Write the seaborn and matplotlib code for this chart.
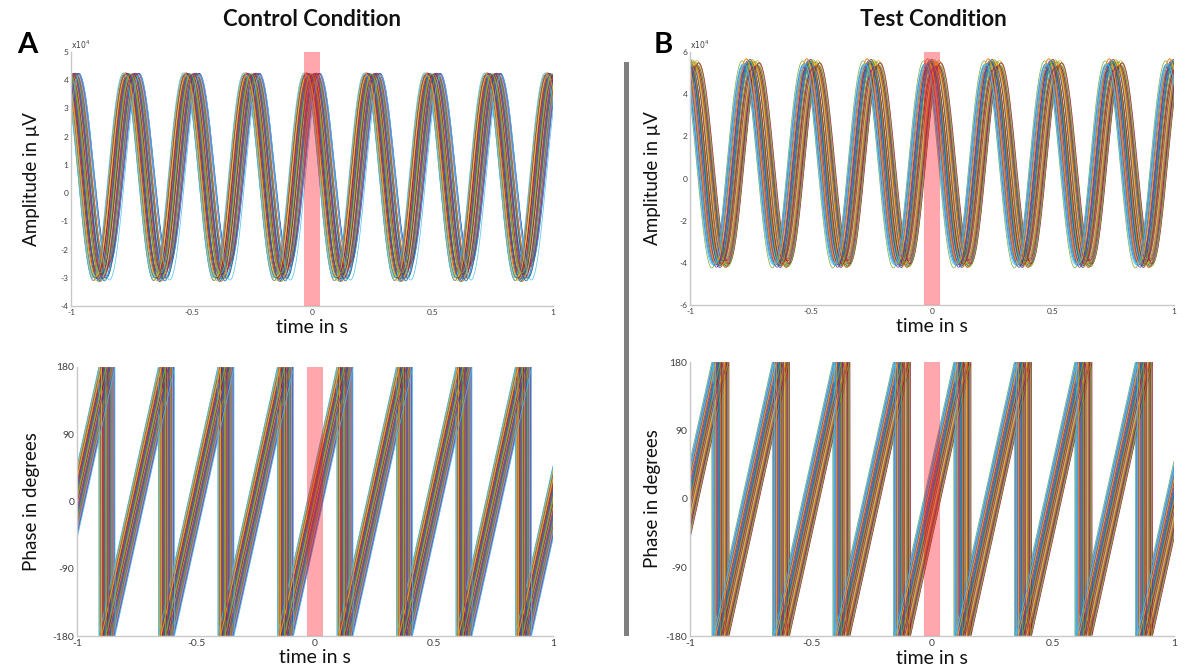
import numpy as np
import pandas as pd
import matplotlib
matplotlib.use("Agg")
import matplotlib.pyplot as plt
from matplotlib.patches import Rectangle
import seaborn as sns

# ---------------- data ----------------
time_s = np.arange(-1.0, 1.00001, 0.0005)     # sampling grid of the traces
freq_hz = 4.0                                   # oscillation frequency (cycles in 1 s)

# phase of each trial at t = 0 (degrees)
ctrl_phase_deg = [12, -35, 27, -8, 41, -22, 3, -47, 19, -14, 33, -2, -29, 8, 46, -18,
                  24, -40, 0, 15, -25, 37, -11, 6, -44, 29, -5, 21, -31, 10, 43, -16,
                  2, -38, 25, -20, 35, -9, 17, -27, 48, -3, 13, -33, 31, -12, 5, -50]
test_phase_deg = [-6, 28, -41, 14, -23, 45, 2, -34, 20, -15, 38, -49, 9, -28, 31, -3,
                  17, -44, 50, -19, 6, -37, 25, -10, 42, -30, 12, -52, 34, -1, -25, 22,
                  -13, 47, -39, 4, 29, -21, 16, -46, 39, -8, 10, -32, 26, -17, 1, 36]

# peak / trough of each trial (x10^4 µV)
ctrl_peak = [4.22, 4.18, 4.25, 4.20, 4.15, 4.23, 4.19, 4.24, 4.17, 4.21, 4.26, 4.16,
             4.22, 4.20, 4.18, 4.24, 4.19, 4.23, 4.21, 4.17, 4.25, 4.20, 4.16, 4.22,
             4.24, 4.18, 4.21, 4.19, 4.23, 4.15, 4.26, 4.20, 4.22, 4.17, 4.24, 4.19,
             4.21, 4.18, 4.23, 4.16, 4.25, 4.20, 4.22, 4.19, 4.17, 4.24, 4.21, 4.18]
ctrl_trough = [-3.05, -2.95, -3.10, -2.45, -3.00, -2.85, -3.12, -2.60, -2.98, -3.08,
               -2.40, -2.92, -3.02, -2.75, -3.10, -2.88, -3.04, -2.55, -2.96, -3.07,
               -2.70, -3.00, -2.90, -3.14, -2.50, -2.97, -3.06, -2.80, -3.01, -2.65,
               -3.09, -2.93, -3.03, -2.35, -2.99, -3.11, -2.78, -2.94, -3.05, -2.58,
               -3.00, -2.87, -3.13, -2.68, -2.96, -3.02, -2.83, -3.08]
test_peak = [5.45, 5.30, 5.60, 5.25, 5.50, 5.35, 5.65, 5.20, 5.40, 5.55, 5.28, 5.48,
             5.62, 5.33, 5.42, 5.18, 5.52, 5.38, 5.58, 5.27, 5.46, 5.36, 5.68, 5.22,
             5.44, 5.54, 5.31, 5.49, 5.15, 5.57, 5.39, 5.26, 5.63, 5.41, 5.34, 5.51,
             5.24, 5.47, 5.59, 5.32, 5.43, 5.21, 5.56, 5.37, 5.66, 5.29, 5.53, 5.40]
test_trough = [-4.05, -3.92, -4.18, -3.85, -4.10, -3.98, -4.22, -3.88, -4.02, -4.15,
               -3.95, -4.08, -4.20, -3.90, -4.00, -4.12, -3.86, -4.06, -4.24, -3.94,
               -4.03, -4.16, -3.89, -4.09, -3.97, -4.19, -3.93, -4.04, -4.13, -3.87,
               -4.01, -4.21, -3.96, -4.07, -3.91, -4.14, -4.00, -3.84, -4.11, -4.17,
               -3.99, -4.06, -3.93, -4.23, -4.02, -3.90, -4.08, -4.12]

window_s = [-0.035, 0.035]            # highlighted window around 0
x_ticks = [-1, -0.5, 0, 0.5, 1]
x_tick_labels = ["-1", "-0.5", "0", "0.5", "1"]
ctrl_amp_ticks = [-4, -3, -2, -1, 0, 1, 2, 3, 4, 5]
test_amp_ticks = [-6, -4, -2, 0, 2, 4, 6]
phase_ticks = [-180, -90, 0, 90, 180]

matlab_colors = ["#0072BD", "#D95319", "#EDB120", "#7E2F8E", "#77AC30", "#4DBEEE", "#A2142F"]


def build_frames(phases, peaks, troughs):
    amp_rows, ph_rows = [], []
    for i, (ph0, pk, tr) in enumerate(zip(phases, peaks, troughs)):
        theta = 360.0 * freq_hz * time_s + ph0
        amp = tr + (pk - tr) * (1 + np.cos(np.deg2rad(theta))) / 2.0
        wrapped = (theta + 180.0) % 360.0 - 180.0
        name = f"trial{i:02d}"
        amp_rows.append(pd.DataFrame({"t": time_s, "v": amp, "trial": name}))
        ph_rows.append(pd.DataFrame({"t": time_s, "v": wrapped, "trial": name}))
    return pd.concat(amp_rows, ignore_index=True), pd.concat(ph_rows, ignore_index=True)


ctrl_amp_df, ctrl_ph_df = build_frames(ctrl_phase_deg, ctrl_peak, ctrl_trough)
test_amp_df, test_ph_df = build_frames(test_phase_deg, test_peak, test_trough)

sns.set_theme(style="white")
plt.rcParams["font.family"] = ["Lato", "DejaVu Sans"]

fig = plt.figure(figsize=(11.9, 6.66), dpi=100)
W, H = 1190.0, 666.0


def add_ax(left, top, right, bottom):
    return fig.add_axes([left / W, 1 - bottom / H, (right - left) / W, (bottom - top) / H])


ax_ca = add_ax(71, 52, 553, 306)
ax_cp = add_ax(77, 367, 553, 636)
ax_ta = add_ax(690, 52, 1174, 305)
ax_tp = add_ax(690, 362, 1174, 636)

palette = [matlab_colors[i % len(matlab_colors)] for i in range(len(ctrl_phase_deg))]


def draw(ax, df, ylim, yticks, tick_fs, ylabel, ylab_x, xlab_y):
    sns.lineplot(data=df, x="t", y="v", hue="trial", palette=palette, estimator=None,
                 sort=False, legend=False, linewidth=0.55, alpha=0.9, ax=ax)
    ax.axvspan(window_s[0], window_s[1], color="#ff1020", alpha=0.37, lw=0, zorder=5)
    ax.set_xlim(-1, 1)
    ax.set_ylim(*ylim)
    ax.set_xticks(x_ticks)
    ax.set_xticklabels(x_tick_labels)
    ax.set_yticks(yticks)
    ax.set_yticklabels([str(v) for v in yticks])
    ax.tick_params(direction="in", length=3, width=0.6, colors="#bbbbbb",
                   labelcolor="#404040", labelsize=tick_fs, pad=2)
    for side in ["top", "right"]:
        ax.spines[side].set_visible(False)
    for side in ["left", "bottom"]:
        ax.spines[side].set_color("#c8c8c8")
        ax.spines[side].set_linewidth(1.0)
    ax.set_xlabel("time in s", fontsize=14, color="#111111")
    ax.xaxis.set_label_coords(0.5, xlab_y, transform=ax.transAxes)
    ax.xaxis.label.set_va("top")
    ax.set_ylabel(ylabel, fontsize=13.5, color="#111111")
    ax.yaxis.set_label_coords(ylab_x, 0.5)
    ax.patch.set_alpha(0)


draw(ax_ca, ctrl_amp_df, (-4, 5), ctrl_amp_ticks, 6, "Amplitude in \u03bcV", -0.065, -0.05)
draw(ax_cp, ctrl_ph_df, (-180, 180), phase_ticks, 7.5, "Phase in degrees", -0.078, -0.05)
draw(ax_ta, test_amp_df, (-6, 6), test_amp_ticks, 6, "Amplitude in \u03bcV", -0.06, -0.05)
draw(ax_tp, test_ph_df, (-180, 180), phase_ticks, 7.5, "Phase in degrees", -0.06, -0.05)

for ax in (ax_ca, ax_ta):
    ax.text(0.0, 1.005, r"x10$^4$", transform=ax.transAxes, fontsize=5.5,
            ha="left", va="bottom", color="#404040", family="DejaVu Sans")

fig.text(312 / W, 1 - 20 / H, "Control Condition", ha="center", va="center",
         fontsize=16, fontweight="bold", color="#111111")
fig.text(933 / W, 1 - 20 / H, "Test Condition", ha="center", va="center",
         fontsize=16, fontweight="bold", color="#111111")
fig.text(27 / W, 1 - 45 / H, "A", ha="center", va="center", fontsize=21,
         fontweight="bold", color="#000000")
fig.text(663 / W, 1 - 45 / H, "B", ha="center", va="center", fontsize=21,
         fontweight="bold", color="#000000")

fig.add_artist(Rectangle((624 / W, 1 - 636 / H), 5 / W, (636 - 62) / H,
                         transform=fig.transFigure, facecolor="#808080",
                         edgecolor="none"))

fig.savefig("out.png", dpi=100, facecolor="white")
